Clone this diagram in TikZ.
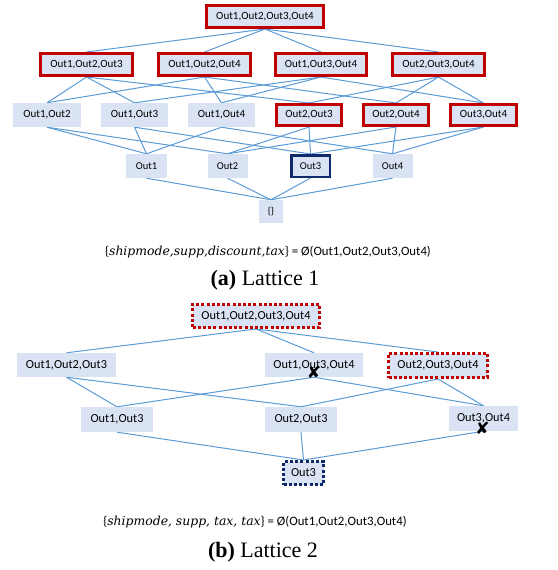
\RequirePackage{fix-cm}
\documentclass[tikz,border=0pt]{standalone}
\usepackage{fontspec}
\setmainfont{Liberation Serif}
\newfontfamily\carlito{Carlito}
\newfontfamily\djv{DejaVu Sans}
\newfontfamily\djvserif{DejaVu Serif}
\usetikzlibrary{backgrounds}
\definecolor{boxfill}{HTML}{DAE3F3}
\definecolor{edgeblue}{HTML}{5B9BD5}
\definecolor{boxred}{HTML}{C00000}
\definecolor{navy}{HTML}{0E2A6A}
\tikzset{
  lat/.style={fill=boxfill, inner sep=0pt, font=\carlito\fontsize{11}{13}\selectfont},
  latb/.style={fill=boxfill, inner sep=0pt, font=\carlito\fontsize{12.3}{14}\selectfont},
  sz/.style 2 args={minimum width=#1pt, minimum height=#2pt},
  redb/.style={draw=boxred, line width=3pt},
  navyb/.style={draw=navy, line width=2.5pt},
  reddot/.style={draw=boxred, line width=3pt, dash pattern=on 3pt off 2.2pt},
  navydot/.style={draw=navy, line width=3pt, dash pattern=on 3pt off 2.2pt},
  edge/.style={draw=edgeblue, line width=1pt},
  xmark/.style={inner sep=0pt, font=\djv\fontsize{17}{17}\selectfont},
  formula/.style={inner sep=0pt, font=\carlito\fontsize{12.8}{15}\selectfont},
  capt/.style={inner sep=0pt, font=\fontsize{22}{25}\selectfont},
}
\newcommand{\mi}[1]{{\djvserif\itshape\fontsize{12.4}{15}\selectfont #1}}
\begin{document}
\begin{tikzpicture}[x=1pt, y=-1pt]
\useasboundingbox (0,0) rectangle (557,570);
% ---------- Lattice 1 ----------
\node[lat, redb, sz={117}{22}] (top) at (265,16.5) {Out1,Out2,Out3,Out4};
\node[lat, redb, sz={92}{22}] (t123) at (86.5,64.5) {Out1,Out2,Out3};
\node[lat, redb, sz={92}{22}] (t124) at (204.5,64.5) {Out1,Out2,Out4};
\node[lat, redb, sz={91}{22}] (t134) at (321,64.5) {Out1,Out3,Out4};
\node[lat, redb, sz={92}{22}] (t234) at (438.5,64.5) {Out2,Out3,Out4};
\node[lat, sz={68}{24}] (p12) at (47,115) {Out1,Out2};
\node[lat, sz={67}{24}] (p13) at (134.5,115) {Out1,Out3};
\node[lat, sz={67}{24}] (p14) at (221.5,115) {Out1,Out4};
\node[lat, redb, sz={65}{21}] (p23) at (309,115) {Out2,Out3};
\node[lat, redb, sz={65}{21}] (p24) at (396,115) {Out2,Out4};
\node[lat, redb, sz={66}{21}] (p34) at (483.5,115) {Out3,Out4};
\node[lat, sz={41}{24}, font=\carlito\fontsize{10.5}{12}\selectfont] (s1) at (146.5,166) {Out1};
\node[lat, sz={40}{24}, font=\carlito\fontsize{10.5}{12}\selectfont] (s2) at (227.5,166) {Out2};
\node[lat, navyb, sz={38.5}{21.5}, font=\carlito\fontsize{10.5}{12}\selectfont] (s3) at (310.5,166) {Out3};
\node[lat, sz={40}{24}, font=\carlito\fontsize{10.5}{12}\selectfont] (s4) at (392.5,166) {Out4};
\node[lat, sz={24}{23}, font=\carlito\fontsize{10}{12}\selectfont] (e) at (271,211.5) {\{\}};
\begin{scope}[on background layer]
\foreach \a in {t123,t124,t134,t234} \path[edge] (top.south) -- (\a.north);
\foreach \a/\b in {t123/p12,t123/p13,t123/p23,t124/p12,t124/p14,t124/p24,t134/p13,t134/p14,t134/p34,t234/p23,t234/p24,t234/p34}
  \path[edge] (\a.south) -- (\b.north);
\foreach \a/\b in {p12/s1,p12/s2,p13/s1,p13/s3,p14/s1,p14/s4,p23/s2,p23/s3,p24/s2,p24/s4,p34/s3,p34/s4}
  \path[edge] (\a.south) -- (\b.north);
\foreach \a in {s1,s2,s3,s4} \path[edge] (\a.south) -- (e.north);
\end{scope}
\node[formula] (f1) at (268,252) {\{\mi{shipmode,supp,discount,tax}\} = Ø(Out1,Out2,Out3,Out4)};
\node[capt] (c1) at (265,280) {\textbf{(a)} Lattice 1};
% ---------- Lattice 2 ----------
\node[latb, reddot, sz={127}{23}] (top2) at (256,316) {Out1,Out2,Out3,Out4};
\node[latb, sz={99}{24}] (u123) at (66.5,365) {Out1,Out2,Out3};
\node[latb, sz={98}{24}] (u134) at (314,365) {Out1,Out3,Out4};
\node[latb, reddot, sz={99}{24}] (u234) at (438,365.5) {Out2,Out3,Out4};
\node[latb, sz={72}{25}] (v13) at (117,419.5) {Out1,Out3};
\node[latb, sz={72}{25}] (v23) at (301,419.5) {Out2,Out3};
\node[latb, sz={69}{25}] (v34) at (483.5,418.5) {Out3,Out4};
\node[latb, navydot, sz={40}{23}] (w3) at (303.5,473) {Out3};
\begin{scope}[on background layer]
\foreach \a in {u123,u134,u234} \path[edge] (top2.south) -- (\a.north);
\foreach \a/\b in {u123/v13,u123/v23,u134/v13,u134/v34,u234/v23,u234/v34}
  \path[edge] (\a.south) -- (\b.north);
\foreach \a in {v13,v23,v34} \path[edge] (\a.south) -- (w3.north);
\end{scope}
\node[xmark] (x1) at ([yshift=5pt]u134.south) {✘};
\node[xmark] (x2) at ([xshift=-1pt,yshift=3pt]v34.south) {✘};
\node[formula] (f2) at (255,522) {\{\mi{shipmode, supp, tax, tax}\} = Ø(Out1,Out2,Out3,Out4)};
\node[capt] (c2) at (263,552) {\textbf{(b)} Lattice 2};
\end{tikzpicture}
\end{document}
